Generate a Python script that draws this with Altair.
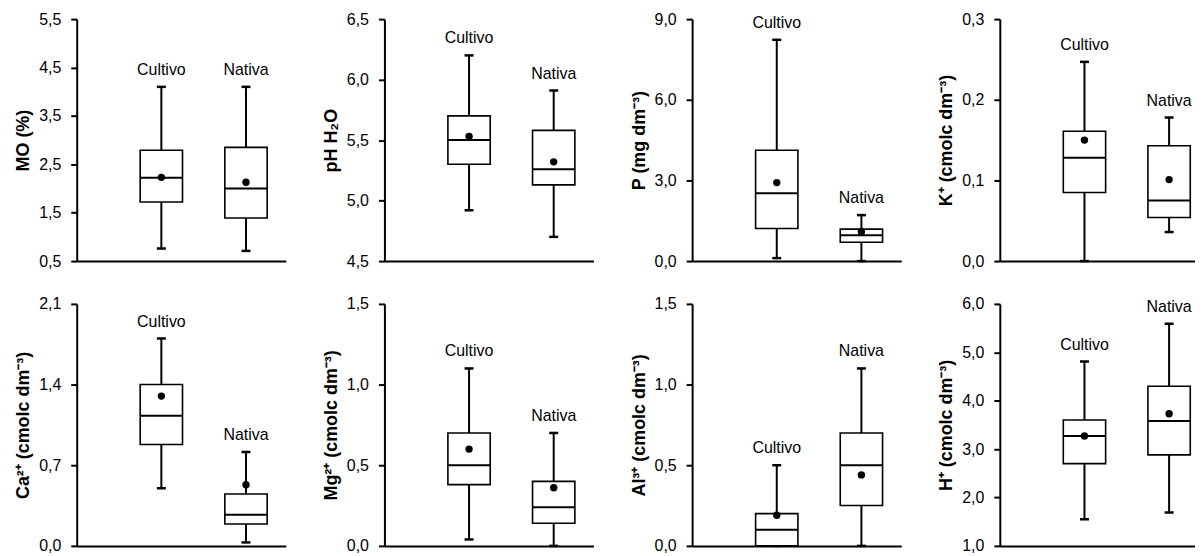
import altair as alt
import pandas as pd

groups = ["Cultivo", "Nativa"]
variables = ["MO", "pH", "P", "K", "Ca", "Mg", "Al", "H"]
titles = ["MO (%)", "pH H₂O", "P (mg dm⁻³)", "K⁺ (cmolc dm⁻³)",
          "Ca²⁺ (cmolc dm⁻³)", "Mg²⁺ (cmolc dm⁻³)", "Al³⁺ (cmolc dm⁻³)", "H⁺ (cmolc dm⁻³)"]
y_min = [0.5, 4.5, 0.0, 0.0, 0.0, 0.0, 0.0, 1.0]
y_max = [5.5, 6.5, 9.0, 0.3, 2.1, 1.5, 1.5, 6.0]
y_step = [1.0, 0.5, 3.0, 0.1, 0.7, 0.5, 0.5, 1.0]

# Cultivo statistics (per variable)
cult_min = [0.76, 4.92, 0.11, 0.000, 0.50, 0.04, 0.00, 1.55]
cult_q1 = [1.72, 5.30, 1.21, 0.085, 0.88, 0.38, 0.00, 2.70]
cult_med = [2.22, 5.50, 2.52, 0.128, 1.13, 0.50, 0.10, 3.27]
cult_q3 = [2.79, 5.70, 4.12, 0.161, 1.40, 0.70, 0.20, 3.60]
cult_max = [4.10, 6.20, 8.23, 0.247, 1.80, 1.10, 0.50, 4.81]
cult_mean = [2.23, 5.53, 2.92, 0.150, 1.30, 0.60, 0.19, 3.27]

# Nativa statistics (per variable)
nat_min = [0.71, 4.70, 0.00, 0.036, 0.03, 0.00, 0.00, 1.69]
nat_q1 = [1.39, 5.13, 0.70, 0.054, 0.19, 0.14, 0.25, 2.88]
nat_med = [2.00, 5.26, 0.96, 0.075, 0.27, 0.24, 0.50, 3.58]
nat_q3 = [2.85, 5.58, 1.19, 0.143, 0.45, 0.40, 0.70, 4.30]
nat_max = [4.10, 5.91, 1.71, 0.178, 0.815, 0.70, 1.10, 5.59]
nat_mean = [2.13, 5.32, 1.09, 0.101, 0.53, 0.36, 0.44, 3.73]

FONT = "Liberation Sans"
H = 243
BOX = 42.5      # box width in px
STEP = 85.0     # distance between the two box centres in px
FIRST = 85.0    # distance from y axis to first box centre in px


def panel(i, W):
    df = pd.DataFrame({
        "grupo": groups,
        "vmin": [cult_min[i], nat_min[i]],
        "q1": [cult_q1[i], nat_q1[i]],
        "med": [cult_med[i], nat_med[i]],
        "q3": [cult_q3[i], nat_q3[i]],
        "vmax": [cult_max[i], nat_max[i]],
        "mean": [cult_mean[i], nat_mean[i]],
    })
    n = int(round((y_max[i] - y_min[i]) / y_step[i]))
    ticks = [round(y_min[i] + k * y_step[i], 4) for k in range(n + 1)]
    yscale = alt.Scale(domain=[y_min[i], y_max[i]], nice=False, zero=False)
    p_in = 1 - BOX / STEP
    p_out = (W / STEP - (2 - p_in)) / 2
    align = (FIRST - BOX / 2) / (W - STEP * (2 - p_in))
    xenc = alt.X("grupo:N",
                 scale=alt.Scale(type="band", domain=groups, paddingInner=p_in,
                                 paddingOuter=p_out, align=align),
                 axis=alt.Axis(title=None, labels=False, ticks=False, domain=True,
                               domainColor="black", domainWidth=2, grid=False))
    yaxis = alt.Axis(title=titles[i], values=ticks, grid=False,
                     labelExpr="replace(format(datum.value, '.1f'), '.', ',')",
                     domainColor="black", domainWidth=2, tickColor="black",
                     tickWidth=2, tickSize=6, labelFontSize=16, labelColor="black",
                     labelFont=FONT, labelPadding=10, titleFont=FONT,
                     titleFontSize=18, titleFontWeight="bold", titleColor="black",
                     titlePadding=6)
    base = alt.Chart(df).encode(x=xenc)
    whisk = base.mark_rule(color="black", strokeWidth=2).encode(
        y=alt.Y("vmin:Q", scale=yscale, axis=yaxis), y2="vmax:Q")
    capl = base.mark_tick(color="black", size=9, thickness=2.5, opacity=1).encode(
        y=alt.Y("vmin:Q", scale=yscale))
    caph = base.mark_tick(color="black", size=9, thickness=2.5, opacity=1).encode(
        y=alt.Y("vmax:Q", scale=yscale))
    box = base.mark_bar(size=BOX, fill="white", stroke="black", strokeWidth=1.6).encode(
        y=alt.Y("q1:Q", scale=yscale), y2="q3:Q")
    med = base.mark_tick(color="black", size=BOX, thickness=2, opacity=1).encode(
        y=alt.Y("med:Q", scale=yscale))
    mean = base.mark_point(filled=True, color="black", size=55, opacity=1).encode(
        y=alt.Y("mean:Q", scale=yscale))
    lab = base.mark_text(dy=-17, fontSize=16, font=FONT, color="black",
                         baseline="middle").encode(
        y=alt.Y("vmax:Q", scale=yscale), text="grupo:N")
    return alt.layer(whisk, capl, caph, box, med, mean, lab).properties(width=W, height=H)


widths = [210, 210, 210, 196]
row1 = alt.hconcat(*[panel(i, widths[i]) for i in range(4)], spacing=36)
row2 = alt.hconcat(*[panel(i, widths[i - 4]) for i in range(4, 8)], spacing=36)
chart = alt.vconcat(row1, row2, spacing=27).properties(
    padding={"left": 6, "top": 2, "right": 0, "bottom": 0}
).configure_view(stroke=None)

chart.save("out.html", embed_options={"renderer": "svg", "actions": False})
